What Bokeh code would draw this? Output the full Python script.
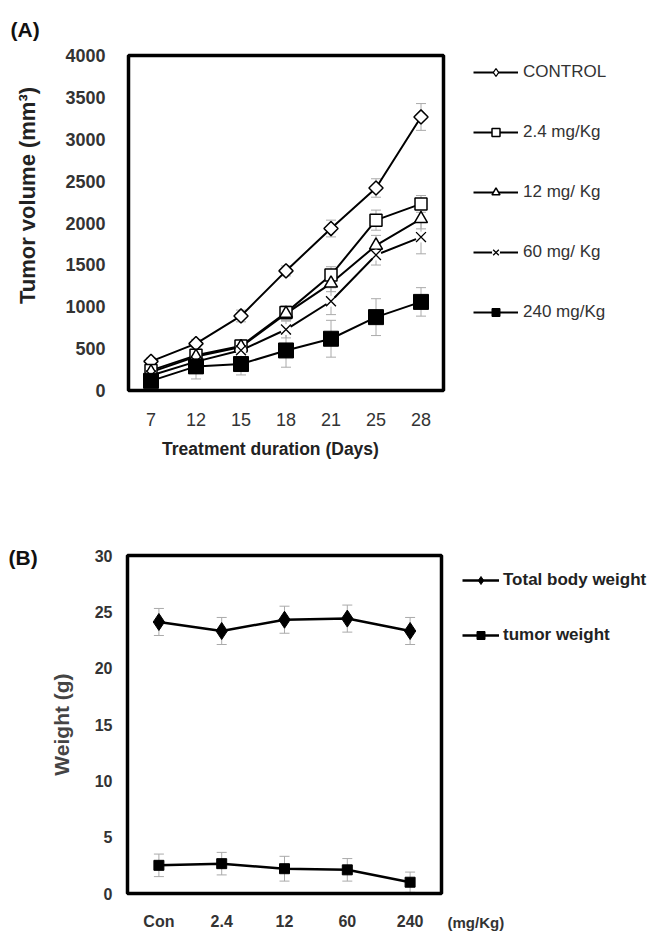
from bokeh.plotting import figure
from bokeh.models import (ColumnDataSource, Range1d, FixedTicker, Legend, LegendItem,
                          Whisker, TeeHead, Label, BoxAnnotation)
from bokeh.layouts import column
from bokeh.embed import file_html
from bokeh.resources import INLINE
import numpy as np

# ---------------- data: panel A ----------------
days = ["7", "12", "15", "18", "21", "25", "28"]
control = [348, 560, 890, 1428, 1934, 2418, 3266]
control_err = [40, 50, 70, 60, 100, 110, 160]
dose_2_4 = [240, 420, 532, 930, 1378, 2034, 2228]
dose_2_4_err = [30, 50, 70, 80, 100, 120, 100]
dose_12 = [220, 405, 520, 918, 1280, 1732, 2050]
dose_12_err = [30, 50, 70, 80, 100, 120, 120]
dose_60 = [180, 345, 480, 728, 1066, 1618, 1832]
dose_60_err = [30, 60, 100, 100, 160, 120, 200]
dose_240 = [115, 288, 316, 478, 618, 876, 1058]
dose_240_err = [30, 150, 130, 200, 220, 220, 170]
series_a_labels = ["CONTROL", "2.4 mg/Kg", "12 mg/ Kg", "60 mg/ Kg", "240 mg/Kg"]
volume_ticks = list(range(0, 4001, 500))

# ---------------- data: panel B ----------------
doses = ["Con", "2.4", "12", "60", "240"]
body_weight = [24.1, 23.3, 24.3, 24.4, 23.3]
body_weight_err = [1.2, 1.2, 1.2, 1.2, 1.2]
tumor_weight = [2.5, 2.65, 2.2, 2.1, 1.0]
tumor_weight_err = [1.0, 1.0, 1.1, 1.0, 0.9]
series_b_labels = ["Total body weight", "tumor weight"]
weight_ticks = list(range(0, 31, 5))

FONT = "Liberation Sans"
TXT = "#333333"
FIG_W = 652


class Frame:
    """Maps the plot box (in figure pixels) onto data ranges covering the whole figure."""

    def __init__(self, n_cat, y_max, box, height):
        self.l, self.r, self.t, self.b = box
        self.h = height
        self.n = n_cat
        self.ymax = y_max
        self.kx = (self.r - self.l) / n_cat          # px per category
        self.ky = (self.b - self.t) / y_max          # px per y-unit

    def x_range(self):
        return Range1d(-0.5 - self.l / self.kx, self.n - 0.5 + (FIG_W - self.r) / self.kx)

    def y_range(self):
        return Range1d(-(self.h - self.b) / self.ky, self.ymax + self.t / self.ky)

    def dx(self, px):
        return -0.5 + (px - self.l) / self.kx

    def dy(self, py):
        return (self.b - py) / self.ky


def make_fig(fr, height, n_cat, y_max, labels, y_ticks):
    p = figure(width=FIG_W, height=height, output_backend="svg", toolbar_location=None,
               x_range=fr.x_range(), y_range=fr.y_range(), min_border=0)
    p.outline_line_color = None
    p.xgrid.grid_line_color = None
    p.ygrid.grid_line_color = None
    p.add_layout(BoxAnnotation(left=-0.5, right=n_cat - 0.5, bottom=0, top=y_max,
                               fill_alpha=0, line_color="black", line_alpha=1,
                               line_width=3.5))
    xa, ya = p.xaxis[0], p.yaxis[0]
    xa.fixed_location = 0
    ya.fixed_location = -0.5
    xa.ticker = FixedTicker(ticks=list(range(n_cat)))
    xa.major_label_overrides = {i: lab for i, lab in enumerate(labels)}
    ya.ticker = FixedTicker(ticks=y_ticks)
    for ax in (xa, ya):
        ax.axis_line_color = None
        ax.major_tick_line_color = None
        ax.minor_tick_line_color = None
        ax.major_label_text_font = FONT
        ax.axis_label_text_font = FONT
        ax.major_label_text_color = TXT
        ax.axis_label_text_color = "#222222"
        ax.axis_label_text_font_style = "bold"
    return p


def whisker(src):
    return Whisker(source=src, base="x", upper="upper", lower="lower",
                   line_color="#aaaaaa", line_width=1,
                   upper_head=TeeHead(size=10, line_color="#aaaaaa", line_width=1),
                   lower_head=TeeHead(size=10, line_color="#aaaaaa", line_width=1))


def err_source(xs, vals, errs):
    return ColumnDataSource(dict(x=xs, y=vals,
                                 upper=[v + e for v, e in zip(vals, errs)],
                                 lower=[v - e for v, e in zip(vals, errs)]))


# ================= Panel A =================
A_H = 478
frA = Frame(len(days), volume_ticks[-1], (128, 443, 55, 390), A_H)
pA = make_fig(frA, A_H, len(days), volume_ticks[-1], days, volume_ticks)
pA.yaxis.major_label_text_font_size = "18px"
pA.yaxis.major_label_text_font_style = "bold"
pA.yaxis.major_label_standoff = 17
pA.yaxis.axis_label = "Tumor volume (mm³)"
pA.yaxis.axis_label_text_font_size = "22px"
pA.yaxis.axis_label_standoff = 22
pA.yaxis.bounds = (0, frA.dy(190) * 2)
pA.xaxis.major_label_text_font_size = "18px"
pA.xaxis.major_label_standoff = 16
pA.xaxis.axis_label = "Treatment duration (Days)"
pA.xaxis.axis_label_text_font_size = "17.5px"
pA.xaxis.axis_label_standoff = 10
pA.xaxis.bounds = (-0.5, 2 * frA.dx(270) + 0.5)

xA = list(range(len(days)))
series_a = [
    (control, control_err, dict(marker="square", angle=np.pi / 4, size=10,
                                fill_color="white", line_color="black", line_width=1.5)),
    (dose_2_4, dose_2_4_err, dict(marker="square", size=12, fill_color="white",
                                  line_color="black", line_width=1.5)),
    (dose_12, dose_12_err, dict(marker="triangle", size=13, fill_color="white",
                                line_color="black", line_width=1.5)),
    (dose_60, dose_60_err, dict(marker="x", size=14, line_color="black", line_width=1.3)),
    (dose_240, dose_240_err, dict(marker="square", size=15, fill_color="black",
                                  line_color="black", line_width=1)),
]
sources = [err_source(xA, vals, errs) for vals, errs, _ in series_a]
for src in sources:
    pA.add_layout(whisker(src))
line_rs = [pA.line("x", "y", source=src, line_color="black", line_width=2) for src in sources]
items_a = []
for i, (src, (vals, errs, mk)) in enumerate(zip(sources, series_a)):
    rs = [line_rs[i]]
    if mk["marker"] == "x":
        rs.append(pA.scatter("x", "y", source=src, marker="circle", size=11,
                             fill_color="white", line_color=None))
    marker_r = pA.scatter("x", "y", source=src, **mk)
    if "angle" in mk:
        # the legend ignores marker rotation: show the control's diamond with a
        # legend-only glyph whose points are not drawn (no y values)
        hidden = ColumnDataSource(dict(x=xA, y=[float("nan")] * len(xA)))
        rs.append(pA.scatter("x", "y", source=hidden, marker="diamond", size=12,
                             fill_color="white", line_color="black", line_width=1.3))
    else:
        rs.append(marker_r)
    items_a.append(LegendItem(label=series_a_labels[i], renderers=rs))

legA = Legend(items=items_a, location=(473, A_H - 62 - 260), margin=0, padding=0,
              glyph_width=45, glyph_height=20, spacing=40, label_standoff=5,
              label_text_font=FONT, label_text_font_size="17px",
              label_text_color=TXT, border_line_color=None,
              background_fill_alpha=0)
pA.add_layout(legA)
pA.add_layout(Label(x=frA.dx(10), y=frA.dy(29), text="(A)",
                    text_font=FONT, text_font_size="21px", text_font_style="bold",
                    text_color="#111111", text_baseline="middle"))

# ================= Panel B =================
B_H = 455
frB = Frame(len(doses), weight_ticks[-1], (127, 441, 77, 415), B_H)
pB = make_fig(frB, B_H, len(doses), weight_ticks[-1], doses, weight_ticks)
pB.yaxis.major_label_text_font_size = "16px"
pB.yaxis.major_label_text_font_style = "bold"
pB.yaxis.major_label_standoff = 9
pB.yaxis.axis_label = "Weight (g)"
pB.yaxis.axis_label_text_font_size = "21px"
pB.yaxis.axis_label_text_color = "#444444"
pB.yaxis.axis_label_standoff = 19
pB.yaxis.bounds = (0, weight_ticks[-1])
pB.xaxis.major_label_text_font_size = "16px"
pB.xaxis.major_label_text_font_style = "bold"
pB.xaxis.major_label_standoff = 13

xB = list(range(len(doses)))
srcB1 = err_source(xB, body_weight, body_weight_err)
srcB2 = err_source(xB, tumor_weight, tumor_weight_err)
for src in (srcB1, srcB2):
    pB.add_layout(whisker(src))
lb1 = pB.line("x", "y", source=srcB1, line_color="black", line_width=2.5)
lb2 = pB.line("x", "y", source=srcB2, line_color="black", line_width=2.5)
mb1 = pB.scatter("x", "y", source=srcB1, marker="diamond", size=17,
                 fill_color="black", line_color="black")
mb2 = pB.scatter("x", "y", source=srcB2, marker="square", size=10,
                 fill_color="black", line_color="black")

legB = Legend(items=[LegendItem(label=series_b_labels[0], renderers=[lb1, mb1]),
                     LegendItem(label=series_b_labels[1], renderers=[lb2, mb2])],
              location=(462, B_H - 92 - 75), margin=0, padding=0,
              glyph_width=37, glyph_height=20, spacing=35, label_standoff=4,
              label_text_font=FONT, label_text_font_size="17px",
              label_text_font_style="bold", label_text_color="#222222",
              border_line_color=None, background_fill_alpha=0)
pB.add_layout(legB)
pB.add_layout(Label(x=frB.dx(8), y=frB.dy(79), text="(B)",
                    text_font=FONT, text_font_size="21px", text_font_style="bold",
                    text_color="#111111", text_baseline="middle"))
pB.add_layout(Label(x=frB.dx(447), y=frB.dy(444), text="(mg/Kg)",
                    text_font=FONT, text_font_size="15px", text_font_style="bold",
                    text_color=TXT, text_baseline="middle"))

layout = column(pA, pB, spacing=0)
open("out.html", "w").write(file_html(layout, INLINE))
